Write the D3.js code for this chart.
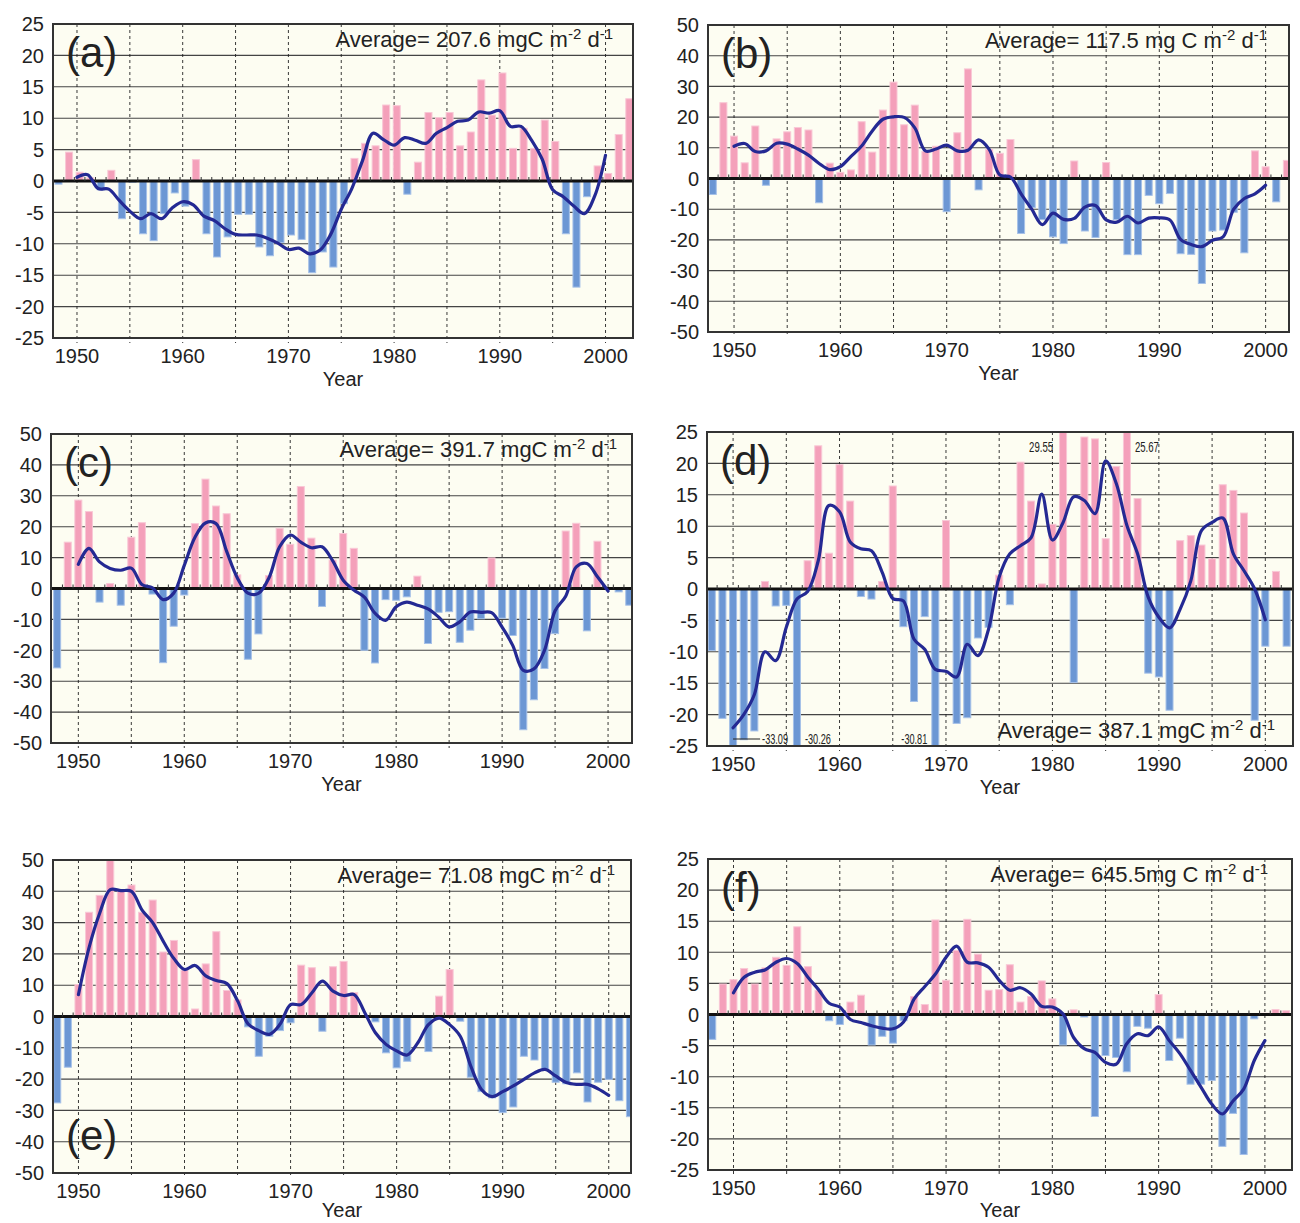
<!DOCTYPE html>
<html>
<head>
<meta charset="utf-8">
<title>Annual anomalies, panels (a)-(f)</title>
<script src="https://d3js.org/d3.v7.min.js"></script>
<style>
  body { margin: 0; background: #fff; }
  svg text { font-family: "Liberation Sans", Arial, Helvetica, sans-serif; fill: #222; }
</style>
</head>
<body>
<svg id="chart" width="1300" height="1223"></svg>
<script>
// years of the bars and of the smoothed curve
const barYears = d3.range(1948, 2003);
const lineYears = d3.range(1950, 2001);

// (a)
const barsA = [-0.5, 4.6, 1.4, 0.5, -1.4, 1.7, -6.0, -0.2, -8.4, -9.5,
  -5.2, -1.9, -4.0, 3.4, -8.4, -12.1, -8.9, -5.3, -5.3, -10.5,
  -11.9, -9.8, -8.6, -9.3, -14.6, -11.3, -13.7, -3.6, 3.6, 6.0,
  5.6, 12.1, 12.0, -2.1, 3.0, 10.9, 10.1, 10.9, 5.6, 7.8,
  16.1, 10.5, 17.2, 5.2, 8.4, 5.2, 9.7, 6.3, -8.4, -16.9,
  -2.5, 2.4, 1.2, 7.4, 13.1];
const lineA = [0.6, 1.0, -1.2, -1.3, -3.1, -4.8, -6.0, -5.2, -6.0, -4.3,
  -3.3, -3.8, -5.6, -6.3, -7.6, -8.5, -8.6, -8.6, -9.1, -9.9,
  -10.9, -10.7, -11.6, -11.0, -8.5, -4.5, -1.2, 3.2, 7.6, 6.6,
  5.7, 6.9, 6.5, 6.0, 7.6, 8.5, 9.5, 9.7, 11.0, 10.8,
  11.2, 8.7, 8.7, 6.5, 3.5, -1.4, -2.5, -4.0, -5.2, -2.3,
  4.1];

// (b)
const barsB = [-5.2, 24.7, 13.8, 5.1, 17.1, -2.2, 12.9, 15.2, 16.6, 15.8,
  -7.9, 5.0, 2.0, 2.8, 18.5, 8.6, 22.3, 31.4, 17.5, 23.9,
  8.8, 10.5, -10.8, 14.9, 35.7, -3.7, 9.5, 8.2, 12.7, -17.9,
  -9.5, -13.4, -19.0, -21.2, 5.7, -17.1, -19.2, 5.2, -13.4, -24.8,
  -24.8, -5.5, -8.2, -4.9, -24.5, -24.7, -34.2, -17.1, -16.8, -11.0,
  -24.2, 9.0, 3.8, -7.6, 5.9];
const lineB = [10.5, 11.4, 8.8, 9.0, 11.5, 11.2, 9.6, 7.6, 4.9, 2.9,
  3.9, 7.2, 10.6, 15.5, 19.3, 20.1, 19.9, 16.5, 9.0, 9.6,
  10.9, 9.0, 9.2, 12.6, 9.5, 1.1, 0.5, -5.0, -10.0, -15.0,
  -11.3, -13.3, -13.0, -9.3, -8.8, -13.5, -14.2, -12.3, -14.5, -12.9,
  -12.8, -13.5, -19.8, -21.5, -22.2, -20.1, -19.0, -10.0, -6.5, -5.0,
  -2.2];

// (c)
const barsC = [-25.7, 15.0, 28.6, 24.9, -4.4, 1.6, -5.4, 16.6, 21.3, -1.8,
  -24.0, -12.2, -2.1, 21.0, 35.4, 26.7, 24.2, 4.4, -22.9, -14.7,
  4.2, 19.5, 14.3, 33.0, 16.3, -5.8, 9.2, 17.8, 13.0, -20.0,
  -24.1, -3.6, -3.8, -2.7, 4.0, -17.8, -7.7, -7.5, -17.4, -13.5,
  -9.8, 9.9, -9.6, -15.2, -45.7, -36.0, -25.9, -14.6, 18.6, 21.1,
  -13.7, 15.3, -0.3, -1.1, -5.4];
const lineC = [7.8, 13.0, 8.6, 6.5, 5.9, 6.6, 1.3, 0.2, -3.6, -1.5,
  7.5, 16.5, 21.2, 21.0, 12.0, 3.5, -1.5, -1.6, 3.5, 13.5,
  17.3, 15.0, 13.2, 13.5, 9.0, 2.7, -0.5, -2.8, -8.0, -10.3,
  -5.9, -4.4, -5.4, -6.6, -9.2, -12.4, -10.8, -7.6, -7.7, -7.8,
  -12.5, -18.4, -26.5, -26.0, -20.0, -7.2, -2.5, 7.0, 8.1, 3.8,
  -0.8];

// (d)
const barsD = [-9.8, -20.6, -33.09, -24.0, -22.6, 1.2, -2.7, -2.6, -30.26, 4.5,
  22.8, 5.7, 19.8, 14.0, -1.2, -1.6, 1.2, 16.4, -6.0, -17.9,
  -4.4, -30.81, 10.9, -21.4, -20.5, -7.8, -6.1, 2.2, -2.5, 20.2,
  14.0, 0.8, 10.3, 29.55, -14.9, 24.2, 23.9, 8.0, 19.5, 25.67,
  14.4, -13.4, -14.0, -19.3, 7.7, 8.5, 7.0, 4.8, 16.6, 15.7,
  12.1, -20.9, -9.1, 2.8, -9.1];
const lineD = [-22.1, -20.0, -16.8, -10.0, -11.4, -6.1, -1.6, -0.4, 4.5, 13.3,
  12.3, 7.5, 6.4, 6.1, 2.7, -1.5, -1.9, -8.0, -9.6, -12.8,
  -13.1, -14.0, -8.8, -10.6, -6.4, 1.9, 5.6, 6.9, 8.2, 15.1,
  7.8, 10.6, 14.7, 14.1, 12.0, 20.4, 16.8, 10.1, 5.6, -1.3,
  -4.5, -6.2, -3.2, 1.3, 9.3, 10.6, 11.3, 5.6, 2.9, 0.0,
  -4.9];
// values written beside the bars that leave the frame of (d)
const notesD = [
  { year: 1950, text: "-33.09", side: "bottom", leader: true },
  { year: 1956, text: "-30.26", side: "bottom" },
  { year: 1969, text: "-30.81", side: "bottom", before: true },
  { year: 1981, text: "29.55", side: "top", before: true },
  { year: 1987, text: "25.67", side: "top" }
];

// (e)
const barsE = [-27.6, -16.2, 10.2, 33.3, 38.7, 50.0, 40.3, 42.0, 33.3, 37.2,
  20.6, 24.3, 14.7, 2.4, 16.8, 27.1, 8.3, 5.3, -3.3, -12.7,
  -6.3, -4.5, -2.0, 16.4, 15.6, -4.7, 15.9, 17.6, 7.6, 0.3,
  -1.7, -11.6, -16.4, -14.3, -0.3, -11.2, 6.5, 15.0, -1.5, -19.4,
  -24.0, -26.0, -30.7, -28.9, -12.7, -13.9, -16.9, -21.0, -21.5, -18.0,
  -27.3, -21.0, -20.1, -26.9, -32.0];
const lineE = [7.0, 22.0, 33.0, 40.5, 40.2, 40.0, 34.0, 30.0, 24.0, 18.5,
  15.0, 16.3, 13.0, 11.5, 10.5, 5.0, -2.4, -4.5, -5.7, -2.5,
  3.8, 3.8, 7.5, 11.3, 8.1, 6.7, 7.0, 1.2, -5.2, -8.9,
  -11.0, -12.3, -8.4, -2.6, -0.5, -2.6, -6.3, -15.9, -23.3, -25.6,
  -24.0, -22.2, -20.1, -18.0, -16.9, -19.0, -21.1, -21.7, -21.7, -23.1,
  -25.2];

// (f)
const barsF = [-4.0, 4.9, 5.6, 7.4, 4.9, 7.5, 9.2, 7.9, 14.1, 7.7,
  3.9, -1.0, -1.6, 2.0, 3.1, -4.9, -3.5, -4.6, -1.0, 2.9,
  1.6, 15.2, 5.5, 10.3, 15.3, 9.7, 3.9, 4.0, 8.0, 2.0,
  2.9, 5.4, 2.5, -4.9, 0.75, -0.4, -16.4, -6.6, -6.9, -9.2,
  -1.9, -2.2, 3.2, -7.4, -3.8, -11.2, -11.2, -10.6, -21.2, -15.9,
  -22.5, -0.7, 0.2, 0.8, 0.6];
const lineF = [3.5, 6.0, 6.8, 7.2, 8.4, 9.0, 8.2, 6.0, 4.0, 1.8,
  1.2, -0.8, -1.3, -1.8, -2.2, -2.3, -1.2, 2.5, 4.5, 6.5,
  9.2, 11.0, 8.4, 8.3, 7.6, 5.5, 3.9, 4.3, 3.3, 1.3,
  1.2, 0.1, -3.7, -5.5, -6.1, -7.7, -8.0, -4.7, -3.1, -3.4,
  -2.0, -4.2, -6.3, -9.0, -11.7, -14.4, -16.0, -13.9, -12.0, -7.4,
  -4.2];

const panels = [
  { id: "a", bars: barsA, line: lineA, yMax: 25, yStep: 5, avg: "207.6 mgC",
    box: [53, 24, 633, 338], xDom: [1947.73, 2002.6], shift: 0.25, avgEnd: 20 },
  { id: "b", bars: barsB, line: lineB, yMax: 50, yStep: 10, avg: "117.5 mg C",
    box: [708, 25, 1289, 332], xDom: [1947.55, 2002.2], shift: 0, avgEnd: 22 },
  { id: "c", bars: barsC, line: lineC, yMax: 50, yStep: 10, avg: "391.7 mgC",
    box: [51, 434, 632, 743], xDom: [1947.42, 2002.26], shift: 0, avgEnd: 15 },
  { id: "d", bars: barsD, line: lineD, yMax: 25, yStep: 5, avg: "387.1 mgC",
    box: [707, 432, 1293, 746], xDom: [1947.55, 2002.6], shift: 0, avgEnd: 18,
    avgBottom: true, notes: notesD },
  { id: "e", bars: barsE, line: lineE, yMax: 50, yStep: 10, avg: "71.08 mgC",
    box: [53, 860, 631, 1173], xDom: [1947.6, 2002.1], shift: 0, avgEnd: 16,
    labelBottom: true },
  { id: "f", bars: barsF, line: lineF, yMax: 25, yStep: 5, avg: "645.5mg C",
    box: [708, 859, 1292, 1170], xDom: [1947.6, 2002.55], shift: 0, avgEnd: 24 }
];

const svg = d3.select("#chart");
const defs = svg.append("defs");

panels.forEach(drawPanel);

function drawPanel(p) {
  const [x0, y0, x1, y1] = p.box;
  const x = d3.scaleLinear().domain(p.xDom).range([x0, x1]);
  const y = d3.scaleLinear().domain([-p.yMax, p.yMax]).range([y1, y0]);
  const g = svg.append("g").attr("class", "panel-" + p.id);

  const clipId = "clip-" + p.id;
  defs.append("clipPath").attr("id", clipId)
    .append("rect").attr("x", x0).attr("y", y0)
    .attr("width", x1 - x0).attr("height", y1 - y0);

  // background
  g.append("rect")
    .attr("x", x0).attr("y", y0)
    .attr("width", x1 - x0).attr("height", y1 - y0)
    .attr("fill", "#fdfdf2");

  // horizontal grid
  const yTicks = d3.range(-p.yMax, p.yMax + 0.001, p.yStep);
  g.selectAll(".hgrid")
    .data(yTicks.filter(v => v !== 0 && Math.abs(v) !== p.yMax))
    .join("line")
    .attr("x1", x0).attr("x2", x1)
    .attr("y1", d => y(d)).attr("y2", d => y(d))
    .attr("stroke", "#444").attr("stroke-width", 1.1);

  // dashed lines every 5 years
  g.selectAll(".vgrid")
    .data(d3.range(1950, 2001, 5))
    .join("line")
    .attr("x1", d => x(d)).attr("x2", d => x(d))
    .attr("y1", y0).attr("y2", y1 + 5)
    .attr("stroke", "#222").attr("stroke-width", 0.9)
    .attr("stroke-dasharray", "3,3");

  // bars
  const bw = 7;
  g.append("g").attr("clip-path", `url(#${clipId})`)
    .selectAll("rect")
    .data(barYears.map((yr, i) => ({ yr, v: p.bars[i] })))
    .join("rect")
    .attr("x", d => x(d.yr + p.shift) - bw / 2)
    .attr("y", d => y(Math.max(0, d.v)))
    .attr("width", bw)
    .attr("height", d => Math.abs(y(d.v) - y(0)))
    .attr("fill", d => d.v >= 0 ? "#f4a0ba" : "#6c97d4")
    .attr("stroke", d => d.v >= 0 ? "#f9c8d6" : "#a6c1e8")
    .attr("stroke-width", 1);

  // zero line with small year ticks
  g.append("line")
    .attr("x1", x0).attr("x2", x1)
    .attr("y1", y(0)).attr("y2", y(0))
    .attr("stroke", "#111").attr("stroke-width", 3);
  g.selectAll(".ztick")
    .data(barYears.slice(0, -1))
    .join("line")
    .attr("x1", d => x(d + 0.5 + p.shift)).attr("x2", d => x(d + 0.5 + p.shift))
    .attr("y1", y(0)).attr("y2", y(0) - 4)
    .attr("stroke", "#333").attr("stroke-width", 1);

  // smoothed curve
  const line = d3.line()
    .x(d => x(d.yr)).y(d => y(d.v))
    .curve(d3.curveCatmullRom.alpha(0.5));
  g.append("path")
    .datum(lineYears.map((yr, i) => ({ yr, v: p.line[i] })))
    .attr("clip-path", `url(#${clipId})`)
    .attr("d", line)
    .attr("fill", "none")
    .attr("stroke", "#242993")
    .attr("stroke-width", 3.2)
    .attr("stroke-linejoin", "round")
    .attr("stroke-linecap", "round");

  // frame
  g.append("rect")
    .attr("x", x0).attr("y", y0)
    .attr("width", x1 - x0).attr("height", y1 - y0)
    .attr("fill", "none").attr("stroke", "#333").attr("stroke-width", 2);

  // y labels
  g.selectAll(".ylab")
    .data(yTicks)
    .join("text")
    .attr("x", x0 - 9).attr("y", d => y(d)).attr("dy", "0.36em")
    .attr("text-anchor", "end").attr("font-size", 20)
    .text(d => d);

  // x labels
  g.selectAll(".xlab")
    .data(d3.range(1950, 2001, 10))
    .join("text")
    .attr("x", d => x(d)).attr("y", y1 + 25)
    .attr("text-anchor", "middle").attr("font-size", 20)
    .text(d => d);

  g.append("text")
    .attr("x", (x0 + x1) / 2).attr("y", Math.min(y1 + 48, 1217))
    .attr("text-anchor", "middle").attr("font-size", 20)
    .text("Year");

  // panel letter
  g.append("text")
    .attr("x", x0 + 13)
    .attr("y", p.labelBottom ? y1 - 23 : y0 + 43)
    .attr("font-size", 42)
    .text("(" + p.id + ")");

  // average
  const avg = g.append("text")
    .attr("x", x1 - p.avgEnd)
    .attr("y", p.avgBottom ? y1 - 8 : y0 + 23)
    .attr("text-anchor", "end").attr("font-size", 22);
  avg.append("tspan").text("Average= " + p.avg + " m");
  avg.append("tspan").attr("font-size", 15).attr("dy", -8).text("-2");
  avg.append("tspan").attr("dy", 8).text(" d");
  avg.append("tspan").attr("font-size", 15).attr("dy", -8).text("-1");

  // notes for clipped bars
  (p.notes || []).forEach(n => {
    const bx = x(n.year + p.shift);
    const ty = n.side === "bottom" ? y1 - 2 : y0 + 20;
    let tx;
    if (n.leader) {
      g.append("line")
        .attr("x1", bx).attr("x2", bx + 27)
        .attr("y1", y1 - 7).attr("y2", y1 - 7)
        .attr("stroke", "#222").attr("stroke-width", 1);
      tx = bx + 29;
    } else {
      tx = n.before ? bx - 34 : bx + 8;
    }
    g.append("text")
      .attr("x", tx).attr("y", ty)
      .attr("font-size", 15)
      .attr("textLength", n.text.length > 5 ? 26 : 24)
      .attr("lengthAdjust", "spacingAndGlyphs")
      .text(n.text);
  });
}
</script>
</body>
</html>
